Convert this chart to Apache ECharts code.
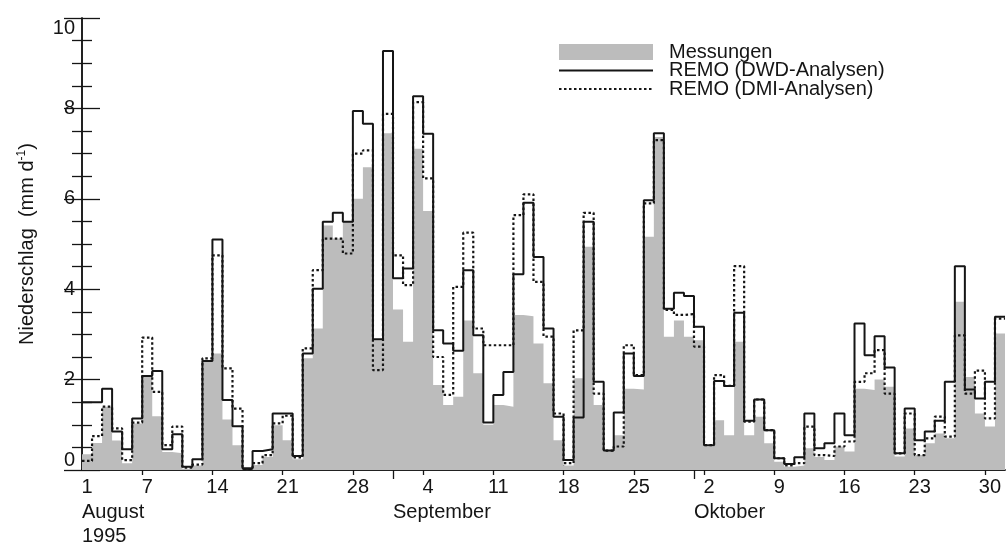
<!DOCTYPE html>
<html lang="de">
<style>
  #container {
    width: 1006px;
    height: 549px;
  }

  body {
    margin: 0;
    background: #fff;
  }
</style>

<head>
  <meta charset="UTF-8">
  <script src="https://cdn.jsdelivr.net/npm/echarts@6/dist/echarts.min.js"></script>
</head>

<body>
  <div id="container"></div>
  <script>
    // Tageswerte 1.8. - 31.10.1995 (mm/d)
    var measured = [
      0.35, 0.6, 1.4, 0.65, 0.15, 1.03, 2.06, 1.19, 0.4, 0.37,
      0.03, 0.1, 2.4, 2.58, 1.12, 0.55, 0.0, 0.11, 0.29, 0.99,
      0.66, 0.24, 2.47, 3.13, 5.41, 5.12, 5.5, 6.0, 6.7, 2.87,
      7.45, 3.55, 2.84, 7.11, 5.73, 1.88, 1.44, 1.62, 3.31, 2.14,
      1.0, 1.44, 1.4, 3.43, 3.4, 2.8, 1.92, 0.66, 0.1, 2.03,
      4.94, 1.44, 0.44, 0.77, 1.8, 1.78, 5.16, 7.37, 2.95, 3.31,
      2.95, 2.87, 0.52, 1.1, 0.77, 2.84, 0.77, 1.18, 0.59, 0.18,
      0.07, 0.1, 0.48, 0.29, 0.22, 0.52, 0.41, 1.8, 1.77, 2.0,
      1.84, 0.3, 0.92, 0.33, 0.59, 0.81, 0.7, 3.72, 2.06, 1.25,
      0.96, 3.02
    ];
    var remoDwd = [
      1.5, 1.5, 1.8, 0.85, 0.46, 1.14, 2.08, 2.19, 0.46, 0.79,
      0.07, 0.24, 2.41, 5.1, 1.55, 0.97, 0.04, 0.42, 0.46, 1.25,
      1.25, 0.31, 2.58, 4.01, 5.49, 5.69, 5.49, 7.94, 7.66, 2.89,
      9.27, 4.24, 4.46, 8.27, 7.44, 3.09, 2.8, 2.64, 4.42, 2.98,
      1.05, 1.66, 2.17, 4.33, 5.91, 4.71, 3.13, 1.18, 0.22, 1.16,
      5.49, 1.95, 0.43, 1.27, 2.58, 2.08, 5.97, 7.45, 3.57, 3.92,
      3.85, 3.17, 0.55, 1.97, 1.86, 3.48, 1.09, 1.56, 0.88, 0.26,
      0.13, 0.28, 1.25, 0.48, 0.59, 1.25, 0.77, 3.24, 2.54, 2.96,
      2.27, 0.37, 1.36, 0.66, 0.85, 1.09, 1.95, 4.51, 1.78, 1.58,
      1.95, 3.39
    ];
    var remoDmi = [
      0.2, 0.75, 1.4, 0.92, 0.22, 1.05, 2.93, 1.73, 0.55, 0.96,
      0.05, 0.12, 2.47, 4.75, 2.25, 1.36, 0.02, 0.15, 0.33, 1.03,
      1.2, 0.28, 2.69, 4.42, 5.12, 5.12, 4.79, 7.0, 7.07, 2.21,
      7.88, 4.75, 4.09, 8.14, 6.45, 2.5, 1.66, 4.05, 5.25, 3.13,
      2.76, 2.76, 2.76, 5.64, 6.1, 4.16, 2.95, 1.25, 0.15, 3.09,
      5.69, 1.69, 0.43, 0.52, 2.76, 2.1, 5.9, 7.3, 3.54, 3.43,
      3.45, 2.73, 0.55, 2.1, 1.86, 4.51, 1.07, 1.56, 0.88, 0.26,
      0.1, 0.15, 0.96, 0.33, 0.31, 0.52, 0.63, 1.95, 2.14, 2.65,
      1.69, 0.37, 1.25, 0.33, 0.7, 1.18, 0.74, 2.98, 1.69, 2.2,
      1.14, 3.35
    ];

    // Achsenbeschriftung (Tag-Index ab 1. August)
    var dayTickDays = [0, 6, 13, 20, 27, 34, 41, 48, 55, 62, 69, 76, 83, 90];
    var dayTickLabels = ['1', '7', '14', '21', '28', '4', '11', '18', '25', '2', '9', '16', '23', '30'];
    var monthStartDays = [0, 31, 61];
    var monthLabels = ['August\n1995', 'September', 'Oktober'];

    var nDays = measured.length;
    var ink = '#151515';
    var grey = '#bcbcbc';
    var fontName = '"Liberation Sans", Arial, sans-serif';

    // Treppenkurve: Wert gilt von Tag i bis i+1
    var toSteps = function (values) {
      var res = [];
      for (var i = 0; i < values.length; i++) {
        res.push([i, values[i]]);
      }
      res.push([values.length, values[values.length - 1]]);
      return res;
    };

    var weekTicks = dayTickDays.filter(function (d) { return d > 0; });
    var monthTicks = monthStartDays.filter(function (d) { return d > 0; });
    var dayLabelPos = dayTickDays.map(function (d) { return d + 0.5; });
    // kleine Striche alle 0.5 mm/d
    var yMinor = [];
    for (var k = 1; k < 20; k++) {
      if (k % 4) yMinor.push(k / 2);
    }

    var myChart = echarts.init(document.getElementById('container'), null, { renderer: 'canvas' });

    var baseX = {
      type: 'value',
      min: 0,
      max: nDays,
      splitLine: { show: false },
      axisLine: { show: false, lineStyle: { color: ink, width: 1.5 } },
      axisTick: { show: true, inside: true, lineStyle: { color: ink, width: 1.3 } },
      axisLabel: { show: false }
    };
    var baseY = {
      type: 'value',
      min: 0,
      max: 10,
      interval: 2,
      splitLine: { show: false },
      axisLine: { show: false, lineStyle: { color: ink, width: 1.5 } },
      axisTick: { show: true, inside: true, length: 18, lineStyle: { color: ink, width: 1.3 } },
      axisLabel: { show: false }
    };
    var mk = function (base, extra) {
      return echarts.util.merge(echarts.util.clone(base), extra, true);
    };
    var plotRect = { left: 82, right: 1, top: 18, bottom: 79, containLabel: false };

    var lineLegendStyle = { color: 'rgba(0,0,0,0)', borderColor: 'rgba(0,0,0,0)', borderWidth: 0, opacity: 0 };

    var option = {
      animation: false,
      textStyle: { fontFamily: fontName, color: ink },
      // zweites Gitter nur für die Zwischenstriche
      grid: [plotRect, echarts.util.clone(plotRect)],
      legend: {
        orient: 'vertical',
        left: 558,
        top: 42,
        padding: 0,
        itemWidth: 94,
        itemHeight: 16,
        itemGap: -1.5,
        selectedMode: false,
        textStyle: { fontSize: 20, lineHeight: 18.5, color: ink, fontFamily: fontName, padding: [0, 0, 0, 11] },
        data: [
          { name: 'Messungen', icon: 'rect' },
          { name: 'REMO (DWD-Analysen)', itemStyle: lineLegendStyle },
          { name: 'REMO (DMI-Analysen)', itemStyle: lineLegendStyle }
        ]
      },
      xAxis: [
        // Tage unten
        mk(baseX, {
          gridIndex: 0,
          position: 'bottom',
          axisLine: { show: true },
          axisTick: { length: 5, customValues: weekTicks },
          axisLabel: {
            show: true,
            customValues: dayLabelPos,
            fontSize: 20,
            margin: 7,
            color: ink,
            formatter: function (v) {
              var i = dayLabelPos.indexOf(v);
              return i >= 0 ? dayTickLabels[i] : '';
            }
          }
        }),
        // Rahmen oben
        mk(baseX, {
          gridIndex: 0,
          position: 'top',
          axisLine: { show: true },
          axisTick: { length: 5, customValues: weekTicks }
        }),
        // Monate unten
        mk(baseX, {
          gridIndex: 1,
          position: 'bottom',
          axisTick: { length: 9, customValues: monthTicks },
          axisLabel: {
            show: true,
            customValues: monthStartDays,
            fontSize: 20,
            lineHeight: 24,
            margin: 30,
            align: 'left',
            color: ink,
            formatter: function (v) {
              var i = monthStartDays.indexOf(v);
              return i >= 0 ? monthLabels[i] : '';
            }
          }
        }),
        mk(baseX, {
          gridIndex: 1,
          position: 'top',
          axisTick: { length: 9, customValues: monthTicks }
        })
      ],
      yAxis: [
        mk(baseY, {
          gridIndex: 0,
          position: 'left',
          name: 'Niederschlag  (mm d{s|-1})',
          nameLocation: 'middle',
          nameGap: 44,
          nameTextStyle: {
            fontSize: 20,
            color: ink,
            rich: { s: { fontSize: 12, padding: [0, 0, 10, 0], color: ink } }
          },
          axisLine: { show: true },
          axisLabel: {
            show: true,
            fontSize: 20,
            margin: 7,
            color: ink,
            verticalAlignMinLabel: 'bottom',
            verticalAlignMaxLabel: 'top'
          }
        }),
        mk(baseY, {
          gridIndex: 0,
          position: 'right',
          axisLine: { show: true }
        }),
        mk(baseY, {
          gridIndex: 1,
          position: 'left',
          axisTick: { length: 10, customValues: yMinor }
        }),
        mk(baseY, {
          gridIndex: 1,
          position: 'right',
          axisTick: { length: 10, customValues: yMinor }
        })
      ],
      series: [
        {
          name: 'Messungen',
          type: 'line',
          step: 'end',
          symbol: 'none',
          data: toSteps(measured),
          itemStyle: { color: grey },
          lineStyle: { width: 0, color: grey },
          areaStyle: { color: grey, opacity: 1 },
          z: 1
        },
        {
          name: 'REMO (DMI-Analysen)',
          type: 'line',
          step: 'end',
          symbol: 'none',
          data: toSteps(remoDmi),
          itemStyle: { color: ink },
          lineStyle: { width: 2.2, color: ink, type: [2.5, 2.5] },
          z: 2
        },
        {
          name: 'REMO (DWD-Analysen)',
          type: 'line',
          step: 'end',
          symbol: 'none',
          data: toSteps(remoDwd),
          itemStyle: { color: ink },
          lineStyle: { width: 2, color: ink },
          z: 3
        }
      ]
    };

    myChart.setOption(option);
  </script>
</body>

</html>
